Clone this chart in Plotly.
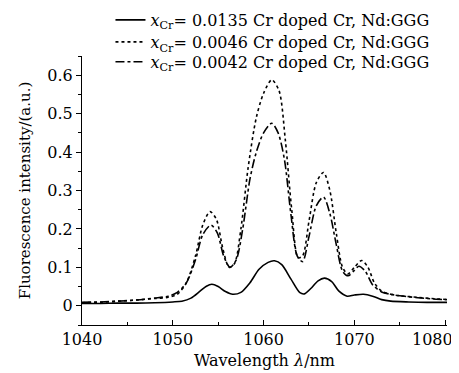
import plotly.graph_objects as go

# Solid: x_Cr = 0.0135
wl_a = [1040, 1042, 1044, 1046, 1048, 1050, 1051, 1052, 1053, 1053.7, 1054.3, 1055, 1055.8, 1056.6,
        1057.5, 1058.5, 1059.5, 1060.5, 1061.2, 1062, 1063, 1064, 1064.5, 1065.2, 1066, 1066.7,
        1067.5, 1068.3, 1069.2, 1070, 1071, 1072, 1073, 1074, 1076, 1078, 1080.5]
int_a = [0.006, 0.006, 0.007, 0.007, 0.008, 0.010, 0.012, 0.020, 0.038, 0.051, 0.056, 0.050, 0.037, 0.030,
         0.035, 0.060, 0.095, 0.113, 0.117, 0.107, 0.070, 0.034, 0.031, 0.045, 0.065, 0.072,
         0.063, 0.038, 0.025, 0.028, 0.030, 0.025, 0.016, 0.012, 0.010, 0.009, 0.009]

# Dotted: x_Cr = 0.0046
wl_b = [1040, 1042, 1044, 1046, 1048, 1049.5, 1050.5, 1051.5, 1052.5, 1053.3, 1054.1, 1054.8, 1055.5,
        1056.2, 1056.8, 1057.5, 1058.3, 1059.2, 1060, 1060.9, 1061.7, 1062.4, 1063.1, 1063.8, 1064.3,
        1065, 1065.8, 1066.6, 1067.3, 1068, 1068.7, 1069.3, 1070, 1070.8, 1071.5, 1072.2, 1073, 1074,
        1075, 1077, 1079, 1080.5]
int_b = [0.008, 0.009, 0.012, 0.015, 0.019, 0.022, 0.030, 0.060, 0.130, 0.210, 0.245, 0.225, 0.150,
         0.100, 0.110, 0.200, 0.360, 0.490, 0.553, 0.588, 0.560, 0.430, 0.250, 0.125, 0.130,
         0.220, 0.320, 0.347, 0.300, 0.190, 0.100, 0.083, 0.100, 0.118, 0.100, 0.060, 0.038, 0.030,
         0.026, 0.022, 0.018, 0.016]

# Dash-dot: x_Cr = 0.0042
wl_c = [1040, 1042, 1044, 1046, 1048, 1049.5, 1050.5, 1051.5, 1052.5, 1053.3, 1054.2, 1054.9, 1055.6,
        1056.3, 1057, 1057.7, 1058.5, 1059.2, 1060, 1060.9, 1061.6, 1062.3, 1063, 1063.7, 1064.3,
        1065, 1065.8, 1066.6, 1067.3, 1068, 1068.7, 1069.3, 1070, 1070.5, 1071.2, 1072, 1073, 1074,
        1075, 1077, 1079, 1080.5]
int_c = [0.009, 0.010, 0.012, 0.015, 0.020, 0.025, 0.035, 0.060, 0.120, 0.185, 0.210, 0.190, 0.130,
         0.100, 0.120, 0.200, 0.330, 0.400, 0.450, 0.475, 0.450, 0.380, 0.240, 0.130, 0.115,
         0.180, 0.260, 0.283, 0.240, 0.160, 0.090, 0.078, 0.092, 0.103, 0.090, 0.055, 0.036, 0.030,
         0.026, 0.021, 0.017, 0.016]

names = ["<i>x</i><sub>Cr</sub>= 0.0135 Cr doped Cr, Nd:GGG",
         "<i>x</i><sub>Cr</sub>= 0.0046 Cr doped Cr, Nd:GGG",
         "<i>x</i><sub>Cr</sub>= 0.0042 Cr doped Cr, Nd:GGG"]

x_ticks = [1040, 1050, 1060, 1070, 1080]
x_tick_labels = ["1040", "1050", "1060", "1070", "1080"]
y_ticks = [0, 0.1, 0.2, 0.3, 0.4, 0.5, 0.6]
y_tick_labels = ["0", "0.1", "0.2", "0.3", "0.4", "0.5", "0.6"]

FONT = "DejaVu Serif"
X_RANGE = [1040, 1080.2]

fig = go.Figure()
fig.add_trace(go.Scatter(x=wl_a, y=int_a, mode="lines", name=names[0], legend="legend",
                         line=dict(color="black", width=1.6, shape="spline", smoothing=0.8)))
fig.add_trace(go.Scatter(x=wl_b, y=int_b, mode="lines", name=names[1], legend="legend2",
                         line=dict(color="black", width=1.6, dash="dot", shape="spline", smoothing=0.8)))
fig.add_trace(go.Scatter(x=wl_c, y=int_c, mode="lines", name=names[2], legend="legend3",
                         line=dict(color="black", width=1.6, dash="dashdot", shape="spline", smoothing=0.8)))

leg_common = dict(x=0.078, xanchor="left", yanchor="middle", bgcolor="rgba(0,0,0,0)",
                  font=dict(family=FONT, size=16), itemwidth=30)

# the last tick label would overflow the page edge; draw it shifted left as in the original
shown_labels = x_tick_labels[:-1] + [""]

fig.update_layout(
    width=451, height=365,
    margin=dict(l=74, r=12, t=48, b=48, autoexpand=False),
    paper_bgcolor="white", plot_bgcolor="white",
    font=dict(family=FONT, size=16, color="black"),
    showlegend=True,
    legend=dict(y=1.134, **leg_common),
    legend2=dict(y=1.052, **leg_common),
    legend3=dict(y=0.978, **leg_common),
    xaxis=dict(range=X_RANGE, tickvals=x_ticks, ticktext=shown_labels,
               ticks="inside", ticklen=5, tickcolor="black", showline=True, linecolor="black",
               linewidth=1, showgrid=False, zeroline=False,
               minor=dict(dtick=5, ticks="inside", ticklen=3, tickcolor="black"),
               title=dict(text="Wavelength <i>λ</i>/nm", standoff=6, font=dict(size=16))),
    yaxis=dict(range=[-0.05, 0.65], tickvals=y_ticks, ticktext=y_tick_labels,
               ticks="outside", ticklen=5, tickcolor="black", showline=True, linecolor="black",
               linewidth=1, showgrid=False, zeroline=False,
               minor=dict(dtick=0.05, ticks="outside", ticklen=3, tickcolor="black"),
               title=dict(text="Fluorescence intensity/(a.u.)", standoff=13, font=dict(size=15))),
)
fig.add_annotation(x=x_ticks[-1], xref="x", y=0, yref="paper", text=x_tick_labels[-1],
                   showarrow=False, xanchor="right", yanchor="middle", xshift=10, yshift=-14,
                   font=dict(family=FONT, size=16, color="black"))

fig.write_html("out.html")
